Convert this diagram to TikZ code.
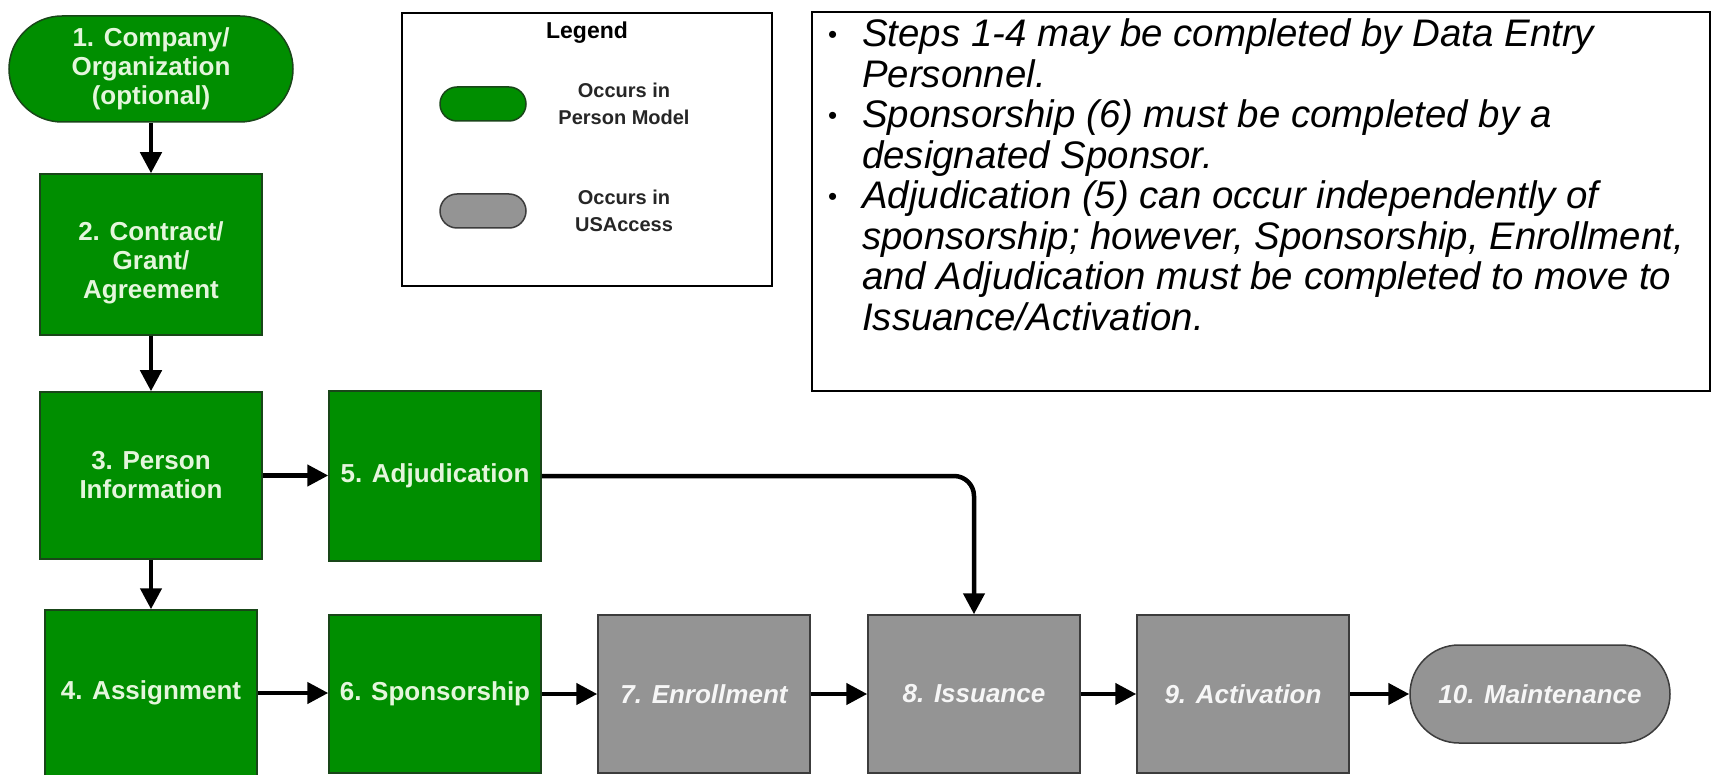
\documentclass[tikz,border=0pt]{standalone}
\usepackage{fontspec}
\setmainfont{Liberation Sans}
\usetikzlibrary{arrows.meta,shapes.misc}
\definecolor{gfill}{RGB}{0,142,0}
\definecolor{gborder}{RGB}{25,70,25}
\definecolor{gtext}{RGB}{228,246,220}
\definecolor{yfill}{RGB}{148,148,148}
\definecolor{yborder}{RGB}{60,60,60}
\definecolor{ytext}{RGB}{246,246,246}
\newcommand\boxfont{\fontsize{26}{29}\selectfont\bfseries}
\newcommand\notefont{\fontsize{38.4}{40.5}\selectfont\itshape}
\begin{document}
\begin{tikzpicture}[x=1pt,y=-1pt,
  box/.style={draw=gborder, line width=1.5pt, inner sep=0pt, align=center, font=\boxfont},
  gbox/.style={box, fill=gfill, text=gtext},
  ybox/.style={box, draw=yborder, fill=yfill, text=ytext, font=\boxfont\itshape},
  flow/.style={-{Triangle[length=21pt,width=21pt]}, line width=4.5pt},
  frame/.style={draw=black, line width=2pt, inner sep=0pt}
]
\useasboundingbox[fill=white] (0,0) rectangle (1711,775);

% flow nodes
\node[gbox, rounded rectangle, minimum width=284pt, minimum height=106pt] (n1) at (151,69) {1. Company/\\Organization\\(optional)};
\node[gbox, minimum width=222pt, minimum height=161pt] (n2) at (151,254.5) {};
\node[align=center, font=\boxfont, text=gtext, inner sep=0pt] (n2t) at (151,263) {2. Contract/\\Grant/\\Agreement};
\node[gbox, minimum width=222pt, minimum height=167pt] (n3) at (151,475.5) {3. Person\\Information};
\node[gbox, minimum width=212pt, minimum height=166pt] (n4) at (151,693) {4. Assignment};
\node[gbox, minimum width=212pt, minimum height=170pt] (n5) at (435,476) {5. Adjudication};
\node[gbox, minimum width=212pt, minimum height=158pt] (n6) at (435,694) {6. Sponsorship};
\node[ybox, minimum width=212pt, minimum height=158pt] (n7) at (704,694) {7. Enrollment};
\node[ybox, minimum width=212pt, minimum height=158pt] (n8) at (974,694) {8. Issuance};
\node[ybox, minimum width=212pt, minimum height=158pt] (n9) at (1243,694) {9. Activation};
\node[ybox, rounded rectangle, minimum width=260pt, minimum height=98pt] (n10) at (1540,694) {10. Maintenance};

% connectors
\draw[flow] (n1.south) -- (n2.north);
\draw[flow] (n2.south) -- (n3.north);
\draw[flow] (n3.south) -- (n4.north);
\draw[flow] (n3.east) -- (n3.east -| n5.west);
\draw[flow] (n4.east) -- (n4.east -| n6.west);
\draw[flow] (n6.east) -- (n7.west);
\draw[flow] (n7.east) -- (n8.west);
\draw[flow] (n8.east) -- (n9.west);
\draw[flow] (n9.east) -- (n10.west);
\draw[flow, rounded corners=20pt] (n5.east) -| (n8.north);

% legend
\node[frame, minimum width=370pt, minimum height=273pt] (legend) at (587,149.5) {};
\node[font=\fontsize{23}{26}\selectfont\bfseries] (legtitle) at (587,33) {Legend};
\node[gbox, rounded rectangle, minimum width=86pt, minimum height=34pt] (legg) at (483,104) {};
\node[box, draw=yborder, fill=yfill, rounded rectangle, minimum width=86pt, minimum height=34pt] (legy) at (483,211) {};
\node[align=center, font=\fontsize{20}{27}\selectfont\bfseries, text=black!85] (leggt) at (624,104) {Occurs in\\Person Model};
\node[align=center, font=\fontsize{20}{27}\selectfont\bfseries, text=black!85] (legyt) at (624,211) {Occurs in\\USAccess};

% notes
\node[frame, line width=2.5pt, minimum width=898pt, minimum height=379pt] (notes) at (1261,201.5) {};
\node[anchor=base west, inner sep=0pt, font=\notefont] (notetext) at (828,47) {%
\begin{tabular}[t]{@{}p{34pt}@{}l@{}}
\raisebox{3pt}{\fontsize{26}{26}\selectfont\upshape •} & Steps 1-4 may be completed by Data Entry\\
 & Personnel.\\
\raisebox{3pt}{\fontsize{26}{26}\selectfont\upshape •} & Sponsorship (6) must be completed by a\\
 & designated Sponsor.\\
\raisebox{3pt}{\fontsize{26}{26}\selectfont\upshape •} & Adjudication (5) can occur independently of\\
 & sponsorship; however, Sponsorship, Enrollment,\\
 & and Adjudication must be completed to move to\\
 & Issuance/Activation.
\end{tabular}};
\end{tikzpicture}
\end{document}
